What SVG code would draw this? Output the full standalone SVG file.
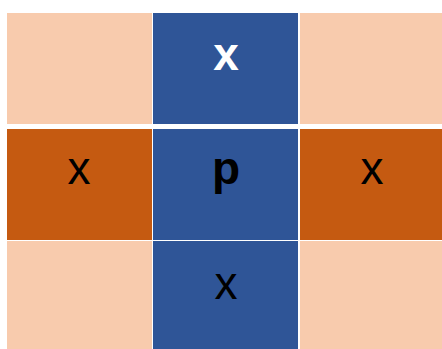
<svg xmlns="http://www.w3.org/2000/svg" width="442" height="349" viewBox="0 0 442 349">
<style>
.peach{fill:#F8CBAD}
.blue{fill:#2F5597}
.orange{fill:#C55A11}
.t{font-family:"Liberation Sans",Arial,sans-serif;font-size:46px;text-anchor:middle;fill:#000}
.w{fill:#fff;font-weight:bold}
.b{font-weight:bold}
</style>
<rect width="442" height="349" fill="#fff"/>
<g id="r1c1"><rect class="peach" x="7" y="13" width="145" height="111"/></g>
<g id="r1c2"><rect class="blue" x="153" y="13" width="145" height="111"/><text class="t w" x="226" y="70">x</text></g>
<g id="r1c3"><rect class="peach" x="300" y="13" width="142" height="111"/></g>
<g id="r2c1"><rect class="orange" x="7" y="129" width="145" height="111"/><text class="t" x="79" y="184">x</text></g>
<g id="r2c2"><rect class="blue" x="153" y="129" width="145" height="111"/><text class="t b" x="226" y="184">p</text></g>
<g id="r2c3"><rect class="orange" x="300" y="129" width="142" height="111"/><text class="t" x="372" y="184">x</text></g>
<g id="r3c1"><rect class="peach" x="7" y="241" width="145" height="108"/></g>
<g id="r3c2"><rect class="blue" x="153" y="241" width="145" height="108"/><text class="t" x="226" y="299">x</text></g>
<g id="r3c3"><rect class="peach" x="300" y="241" width="142" height="108"/></g>
<g id="connectors"></g>
</svg>
